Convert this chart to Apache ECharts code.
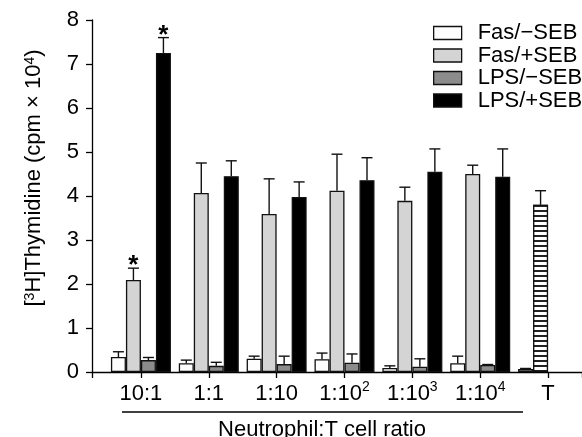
<!DOCTYPE html>
<html>
<head>
<meta charset="utf-8">
<script src="https://cdn.jsdelivr.net/npm/echarts@6/dist/echarts.min.js"></script>
<style>
  html, body { margin: 0; padding: 0; background: #fff; }
  #chart { width: 582px; height: 437px; }
</style>
</head>
<body>
<div id="chart"></div>
<script>
// categories (^n = superscript)
const categories = ['10:1', '1:1', '1:10', '1:10^2', '1:10^3', '1:10^4', 'T'];
const seriesNames = ['Fas/\u2212SEB', 'Fas/+SEB', 'LPS/\u2212SEB', 'LPS/+SEB'];

// bar heights (cpm x 10^4); the T group has T alone -SEB / +SEB in the first two slots
const fasMinus = [0.34, 0.20, 0.30, 0.29, 0.09, 0.20, 0.07];
const fasPlus = [2.09, 4.07, 3.59, 4.12, 3.89, 4.50, 3.80];
const lpsMinus = [0.27, 0.14, 0.18, 0.21, 0.12, 0.16, null];
const lpsPlus = [7.25, 4.45, 3.98, 4.36, 4.55, 4.44, null];

// upper end of the error bars
const fasMinusErr = [0.46, 0.27, 0.36, 0.43, 0.14, 0.36, 0.08];
const fasPlusErr = [2.36, 4.75, 4.39, 4.95, 4.20, 4.70, 4.12];
const lpsMinusErr = [0.33, 0.22, 0.36, 0.41, 0.30, 0.17, null];
const lpsPlusErr = [7.60, 4.80, 4.32, 4.87, 5.07, 5.07, null];

// significance stars: [category index, series index]
const stars = [[0, 1], [0, 3]];

const yTicks = [0, 8, 1]; // min, max, interval

const FONT = '"Liberation Sans", Arial, sans-serif';
const BAR_W = 15;
const CAP_W = 11;
const colors = ['#fdfdfd', '#d4d4d4', '#8c8c8c', '#000000'];

const values = [fasMinus, fasPlus, lpsMinus, lpsPlus];
const errs = [fasMinusErr, fasPlusErr, lpsMinusErr, lpsPlusErr];

function supText(s) {
    return s.replace(/\^(\d+)/g, '{sup|$1}');
}

const stripes = {
    symbol: 'rect',
    symbolSize: 1,
    dashArrayX: [1, 0],
    dashArrayY: [2, 2.5],
    rotation: 0,
    color: '#222',
    backgroundColor: '#fff'
};

const barSeries = seriesNames.map((name, s) => ({
    name: name,
    type: 'bar',
    xAxisIndex: 0,
    yAxisIndex: 0,
    barWidth: BAR_W,
    barGap: 0,
    itemStyle: { color: colors[s], borderColor: '#111', borderWidth: 1.3 },
    data: values[s].map((v, i) => {
        if (v === null) return '-';
        if (categories[i] === 'T' && s === 0) return { value: v, itemStyle: { color: '#8c8c8c' } };
        if (categories[i] === 'T' && s === 1) return { value: v, itemStyle: { color: '#fff', decal: stripes } };
        return v;
    })
}));

const errData = [];
errs.forEach((arr, s) => {
    arr.forEach((top, i) => {
        if (top === null) return;
        const star = stars.some(p => p[0] === i && p[1] === s) ? 1 : 0;
        errData.push([i, s, values[s][i], top, star]);
    });
});

const errSeries = {
    type: 'custom',
    xAxisIndex: 0,
    yAxisIndex: 0,
    silent: true,
    z: 5,
    encode: { x: 0, y: 3 },
    data: errData,
    renderItem: function (params, api) {
        const cat = api.value(0);
        const s = api.value(1);
        const base = api.coord([cat, api.value(2)]);
        const tip = api.coord([cat, api.value(3)]);
        const x = base[0] + (s - 1.5) * BAR_W;
        const style = { stroke: '#111', lineWidth: 1.4 };
        const children = [
            { type: 'line', shape: { x1: x, y1: base[1], x2: x, y2: tip[1] }, style: style },
            { type: 'line', shape: { x1: x - CAP_W / 2, y1: tip[1], x2: x + CAP_W / 2, y2: tip[1] }, style: style }
        ];
        if (api.value(4)) {
            children.push({
                type: 'text',
                style: {
                    text: '*', x: x, y: tip[1] + 11,
                    align: 'center', verticalAlign: 'bottom',
                    font: 'bold 26px ' + FONT, fill: '#000'
                }
            });
        }
        return { type: 'group', children: children };
    }
};

const myChart = echarts.init(document.getElementById('chart'));

const option = {
    animation: false,
    backgroundColor: '#fff',
    grid: [
        { left: 107, right: -15, top: 20, bottom: 65 },
        { left: 92, right: 0, top: 20, bottom: 65 }
    ],
    legend: {
        data: seriesNames,
        orient: 'vertical',
        left: 428,
        top: 17,
        itemWidth: 28,
        itemHeight: 13,
        itemGap: 0.5,
        icon: 'rect',
        itemStyle: { borderColor: '#111', borderWidth: 1.3 },
        textStyle: { fontFamily: FONT, fontSize: 22, color: '#000', lineHeight: 20, padding: [0, 0, 0, 11] }
    },
    xAxis: [
        {
            type: 'category',
            gridIndex: 0,
            data: categories,
            axisLine: { show: false },
            axisTick: { show: true, alignWithLabel: true, length: 6, lineStyle: { color: '#000', width: 1.3 } },
            axisLabel: {
                interval: 0,
                color: '#000', fontFamily: FONT, fontSize: 22, lineHeight: 28, margin: 8,
                formatter: supText,
                rich: { sup: { fontFamily: FONT, fontSize: 14, verticalAlign: 'top', color: '#000' } }
            },
            splitLine: { show: false }
        },
        {
            type: 'value',
            gridIndex: 1,
            min: 0,
            max: 1,
            interval: 1,
            axisLine: { show: true, onZero: false, lineStyle: { color: '#000', width: 1.3 } },
            axisTick: { show: true, length: 6, lineStyle: { color: '#000', width: 1.3 } },
            axisLabel: { show: false },
            splitLine: { show: false }
        }
    ],
    yAxis: [
        { type: 'value', gridIndex: 0, min: yTicks[0], max: yTicks[1], interval: yTicks[2], show: false },
        {
            type: 'value',
            gridIndex: 1,
            min: yTicks[0],
            max: yTicks[1],
            interval: yTicks[2],
            name: '[{sup|3}H]Thymidine (cpm \u00d7 10{sup|4})',
            nameLocation: 'middle',
            nameRotate: 90,
            nameGap: 47,
            nameTextStyle: {
                color: '#000', fontFamily: FONT, fontSize: 22, padding: [0, 0, 0, 36],
                rich: { sup: { fontFamily: FONT, fontSize: 14, verticalAlign: 'top', color: '#000' } }
            },
            axisLine: { show: true, lineStyle: { color: '#000', width: 1.3 } },
            axisTick: { show: true, length: 6, lineStyle: { color: '#000', width: 1.3 } },
            axisLabel: { color: '#000', fontFamily: FONT, fontSize: 22, margin: 13 },
            splitLine: { show: false }
        }
    ],
    series: barSeries.concat([errSeries]),
    graphic: [
        { type: 'line', shape: { x1: 122, y1: 412, x2: 523, y2: 412 }, style: { stroke: '#000', lineWidth: 1.3 } },
        {
            type: 'text', x: 322, y: 430,
            style: { text: 'Neutrophil:T cell ratio', align: 'center', verticalAlign: 'middle', font: '22px ' + FONT, fill: '#000' }
        }
    ]
};

myChart.setOption(option);
</script>
</body>
</html>
